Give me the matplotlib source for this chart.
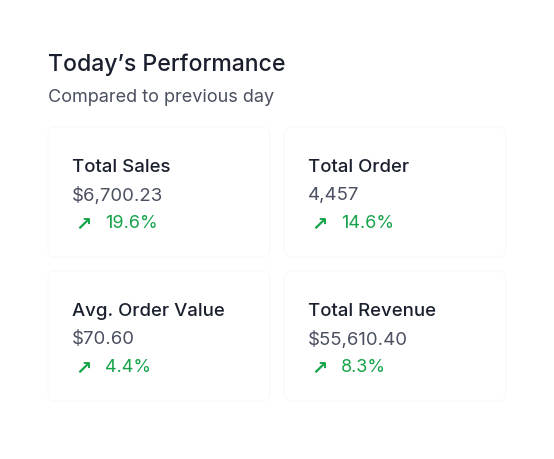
import matplotlib.pyplot as plt
from matplotlib.patches import FancyBboxPatch

titles = ['Total Sales', 'Total Order', 'Avg. Order Value', 'Total Revenue']
values = ['$6,700.23', '4,457', '$70.60', '$55,610.40']
changes = ['19.6%', '14.6%', '4.4%', '8.3%']

W, H = 554, 460
fig = plt.figure(figsize=(W / 100, H / 100), dpi=100)
fig.patch.set_facecolor('white')
ax = fig.add_axes([0, 0, 1, 1])
ax.set_xlim(0, W)
ax.set_ylim(H, 0)
ax.axis('off')

fam = ['Inter', 'DejaVu Sans']

ax.text(48, 65, 'Today\u2019s Performance', fontsize=16.6, color='#1a1f2e',
        family=fam, fontweight='medium', va='center')
ax.text(48, 97, 'Compared to previous day', fontsize=13, color='#4a5060',
        family=fam, va='center')

# card positions (left, top)
card_x = [48, 284, 48, 284]
card_y = [128, 128, 272, 272]
for i in range(4):
    x0, y0 = card_x[i], card_y[i]
    ax.add_patch(FancyBboxPatch((x0, y0), 222, 130,
                                boxstyle='round,pad=0,rounding_size=8',
                                fc='white', ec='#fafafb', lw=1))
    ax.text(x0 + 24, y0 + 40, titles[i], fontsize=13.4, color='#1a1f2e',
            family=fam, fontweight='medium', va='center')
    ax.text(x0 + 24, y0 + 68, values[i], fontsize=13.4, color='#4a5060',
            family=fam, va='center')
    ax.text(x0 + 27, y0 + 96, '\u2197', fontsize=14, color='#16a34a',
            family=['DejaVu Sans'], va='center', fontweight='bold')
    ax.text(x0 + 57, y0 + 96, changes[i], fontsize=13, color='#16a34a',
            family=fam, va='center')

fig.savefig('out.png', dpi=100, facecolor='white')
